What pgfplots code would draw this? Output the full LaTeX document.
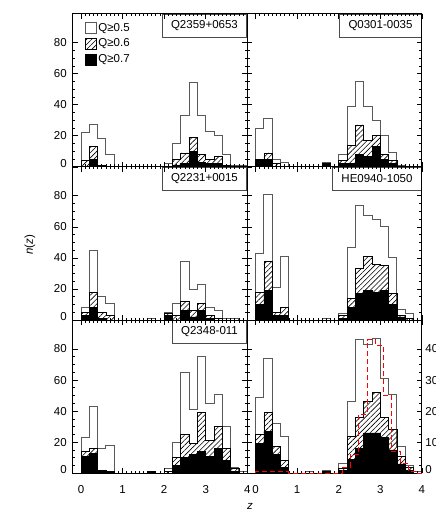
\documentclass[border=0pt]{standalone}
\usepackage{fontspec}
\setmainfont{Liberation Sans}
\usepackage{pgfplots}
\pgfplotsset{compat=1.18}
\usepackage{pgfplotstable}
\usetikzlibrary{patterns.meta}
\newcommand\fs{\fontsize{11.5}{13.8}\selectfont}

% columns: bin left edge z, Q>=0.5 (o), Q>=0.6 (h), Q>=0.7 (f)
\pgfplotstableread{
z o h f
0.0 22 4 0
0.2 27 13 5
0.4 18 1 1
0.6 8 0 0
0.8 0 0 0
1.0 0 0 0
1.2 0 0 0
1.4 0 0 0
1.6 0 0 0
1.8 0 0 0
2.0 2 0 0
2.2 15 5 1
2.4 33 9 2
2.6 54 19 10
2.8 33 8 3
3.0 23 5 2
3.2 20 7 2
3.4 8 1 0
3.6 1 0 0
3.8 1 0 0
4.0 1 0 0
}\tA
\pgfplotstableread{
z o h f
0.0 25 5 4
0.2 31 9 5
0.4 5 2 0
0.6 3 0 0
0.8 0 0 0
1.0 0 0 0
1.2 0 0 0
1.4 0 0 0
1.6 3 2 2
1.8 0 0 0
2.0 8 4 2
2.2 39 14 2
2.4 55 27 8
2.6 39 17 7
2.8 30 20 13
3.0 20 8 5
3.2 9 4 2
3.4 1 0 0
3.6 0 0 0
3.8 0 0 0
4.0 0 0 0
}\tB
\pgfplotstableread{
z o h f
0.0 8 5 3
0.2 45 18 8
0.4 15 5 1
0.6 11 3 0
0.8 0 0 0
1.0 0 0 0
1.2 0 0 0
1.4 0 0 0
1.6 1 0 0
1.8 0 0 0
2.0 5 4 3
2.2 11 3 0
2.4 38 12 6
2.6 20 6 2
2.8 23 11 6
3.0 8 3 1
3.2 6 1 0
3.4 1 0 0
3.6 1 0 0
3.8 0 0 0
4.0 0 0 0
}\tC
\pgfplotstableread{
z o h f
0.0 43 18 10
0.2 81 38 19
0.4 21 5 3
0.6 41 8 3
0.8 0 0 0
1.0 0 0 0
1.2 0 0 0
1.4 0 0 0
1.6 1 0 0
1.8 0 0 0
2.0 4 3 1
2.2 47 14 8
2.4 74 33 17
2.6 67 41 19
2.8 65 36 18
3.0 60 35 19
3.2 40 17 10
3.4 7 3 2
3.6 4 1 0
3.8 0 0 0
4.0 0 0 0
}\tD
\pgfplotstableread{
z o h f
0.0 23 14 11
0.2 43 16 13
0.4 16 2 1
0.6 18 1 1
0.8 0 0 0
1.0 0 0 0
1.2 0 0 0
1.4 0 0 0
1.6 1 1 1
1.8 0 0 0
2.0 3 1 0
2.2 20 10 5
2.4 65 25 10
2.6 41 19 12
2.8 75 39 14
3.0 45 21 11
3.2 51 30 16
3.4 30 16 8
3.6 4 3 1
3.8 1 0 0
4.0 1 0 0
}\tE
\pgfplotstableread{
z o h f
0.0 49 25 19
0.2 74 39 27
0.4 32 17 12
0.6 24 8 4
0.8 0 0 0
1.0 0 0 0
1.2 1 0 0
1.4 0 0 0
1.6 2 1 1
1.8 0 0 0
2.0 6 3 2
2.2 46 24 9
2.4 86 36 16
2.6 83 46 26
2.8 87 52 26
3.0 61 36 23
3.2 51 28 15
3.4 17 11 6
3.6 5 4 2
3.8 1 0 0
4.0 1 0 0
}\tF
% red dashed histogram (right-hand scale)
\pgfplotstableread{
z n
0.0 0.0
0.0 0.5
0.8 0.0
2.08 2
2.28 6
2.48 19
2.68 43
2.88 41
3.08 25
3.28 7
3.48 3
3.68 0.5
3.88 0
4.0 0
}\tR

\pgfplotsset{
  panel/.style={
    scale only axis, width=174.6pt, height=153.2pt, anchor=south west,
    xmin=-0.2, xmax=4, ymin=0, ymax=98.6,
    xtick={0,1,2,3,4}, ytick={0,20,40,60,80},
    minor x tick num=9, minor y tick num=3,
    tick align=inside, major tick length=5pt, minor tick length=2.5pt,
    every tick/.style={black, line width=0.7pt},
    axis line style={line width=0.9pt},
    xticklabels={}, yticklabels={},
    tick label style={font=\fs},
    xticklabel style={yshift=-9pt},
    yticklabel style={xshift=-2.5pt},
    /pgf/number format/assume math mode=true,
    axis on top,
  },
  ylab/.style={yticklabels={\raisebox{3.5pt}[8pt][0pt]{0},20,40,60,80}},
  xlab/.style={xticklabels={0,1,2,3,4}},
  op/.style={const plot, fill=white, draw=black!65, line width=1pt, forget plot},
  ha/.style={const plot, pattern={Lines[angle=45,distance=3.6pt,line width=0.6pt]}, draw=black, line width=0.8pt, forget plot},
  so/.style={const plot, fill=black, draw=black, line width=0.8pt, forget plot},
}
\newcommand\hist[1]{%
  \addplot[op] table[x=z,y=o] {#1} \closedcycle;
  \addplot[ha] table[x=z,y=h] {#1} \closedcycle;
  \addplot[so] table[x=z,y=f] {#1} \closedcycle;
}
\newcommand\field[1]{%
  \node[draw=black!70, line width=0.9pt, fill=white, anchor=north east, inner xsep=9pt, minimum height=23pt, font=\fs] at (rel axis cs:1,1) {#1};
}

\begin{document}
\begin{tikzpicture}
\begin{axis}[panel, ylab, at={(72.7pt,356.1pt)},
  legend style={at={(0.05,0.96)}, anchor=north west, draw=none, fill=none, font=\fs, row sep=4pt, nodes={inner xsep=2pt, inner ysep=1pt}},
  legend cell align=left,
  legend image code/.code={\draw[#1] (0pt,-5.5pt) rectangle (11pt,5.5pt);}]
\hist{\tA}
\field{Q2359+0653}
\addlegendimage{fill=white, draw=black!65, line width=0.8pt}
\addlegendentry{Q≥0.5}
\addlegendimage{pattern={Lines[angle=45,distance=3.6pt,line width=0.6pt]}, draw=black, line width=0.8pt}
\addlegendentry{Q≥0.6}
\addlegendimage{fill=black, draw=black, line width=0.8pt}
\addlegendentry{Q≥0.7}
\end{axis}
\begin{axis}[panel, at={(247.3pt,356.1pt)}]
\hist{\tB}
\field{Q0301-0035}
\end{axis}
\begin{axis}[panel, ylab, at={(72.7pt,202.9pt)}]
\hist{\tC}
\field{Q2231+0015}
\end{axis}
\begin{axis}[panel, at={(247.3pt,202.9pt)}]
\hist{\tD}
\field{HE0940-1050}
\end{axis}
\begin{axis}[panel, ylab, xlab, at={(72.7pt,49.7pt)}]
\hist{\tE}
\field{Q2348-011}
\end{axis}
\begin{axis}[panel, xlab, at={(247.3pt,49.7pt)}]
\hist{\tF}
\end{axis}
\begin{axis}[scale only axis, width=174.6pt, height=153.2pt, anchor=south west, at={(247.3pt,49.7pt)},
  xmin=-0.2, xmax=4, ymin=0, ymax=49.3, axis y line*=right, hide x axis,
  ytick={0,10,20,30,40}, yticklabels={\raisebox{3.5pt}[8pt][0pt]{0},10,20,30,40},
  tick align=inside, major tick length=5pt, every tick/.style={black, line width=0.7pt},
  axis line style={line width=0.9pt},
  tick label style={font=\fs}, /pgf/number format/assume math mode=true]
\addplot[const plot, red, dashed, dash pattern=on 5pt off 3pt, line width=1pt] table[x=z,y=n] {\tR};
\end{axis}
\node[rotate=90, font=\fs] at (30pt,278pt) {\textit{n}(\textit{z})};
\node[font=\fs] at (250pt,17pt) {\textit{z}};
\pgfresetboundingbox
\path[use as bounding box] (0,0) rectangle (436pt,523pt);
\end{tikzpicture}
\end{document}
